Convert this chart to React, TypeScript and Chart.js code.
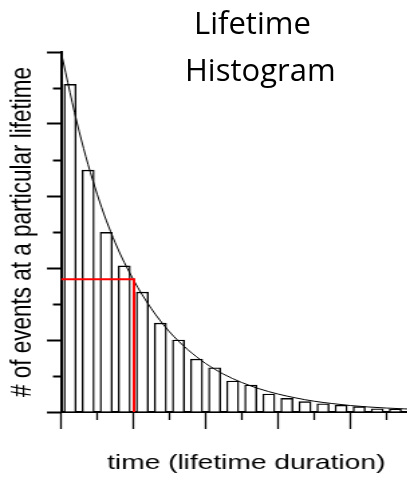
import React, { useEffect, useRef } from "react";
import { Chart, registerables } from "chart.js";

Chart.register(...registerables);

// Histogram bins (time in tick units) and event counts (in y tick units)
const binCenters = [0.25, 0.75, 1.25, 1.75, 2.25, 2.75, 3.25, 3.75, 4.25, 4.75, 5.25, 5.75, 6.25, 6.75, 7.25, 7.75, 8.25, 8.75, 9.25, 9.75];
const counts = [9.1, 6.72, 4.99, 4.06, 3.33, 2.47, 2.0, 1.47, 1.23, 0.86, 0.75, 0.5, 0.38, 0.29, 0.23, 0.19, 0.15, 0.09, 0.075, 0.02];

// Fitted decay curve
const fitT = [0, 0.5, 1, 1.5, 2, 2.5, 3, 3.5, 4, 4.5, 5, 5.5, 6, 6.5, 7, 7.5, 8, 8.5, 9, 9.5, 10, 10.25];
const fitV = [10, 7.8, 6.05, 4.7, 3.68, 2.87, 2.23, 1.74, 1.35, 1.05, 0.82, 0.64, 0.5, 0.39, 0.3, 0.235, 0.18, 0.14, 0.11, 0.087, 0.068, 0.06];

// Lifetime marker (1/e point)
const lifetimeT = 2.02;
const lifetimeV = 3.69;

const titleLines = ["Lifetime", "Histogram"];
const xTitle = "time (lifetime duration)";
const yTitle = "# of events at a particular lifetime";

const STRETCH = 1.34;

export default function App() {
  const ref = useRef<HTMLCanvasElement | null>(null);

  useEffect(() => {
    const canvas = ref.current;
    if (!canvas) return;
    const chart = new Chart(canvas, {
      type: "bar",
      data: {
        datasets: [
          {
            type: "line",
            data: [
              { x: 0, y: lifetimeV },
              { x: lifetimeT, y: lifetimeV },
              { x: lifetimeT, y: 0 },
            ],
            borderColor: "#ff0000",
            borderWidth: 2,
            pointRadius: 0,
            tension: 0,
            fill: false,
            order: 0,
          } as any,
          {
            type: "line",
            data: fitT.map((t, i) => ({ x: t, y: fitV[i] })),
            borderColor: "#000000",
            borderWidth: 1,
            pointRadius: 0,
            cubicInterpolationMode: "monotone",
            fill: false,
            order: 1,
          } as any,
          {
            type: "bar",
            data: binCenters.map((t, i) => ({ x: t, y: counts[i] })),
            backgroundColor: "#ffffff",
            borderColor: "#000000",
            borderWidth: 1.4,
            barThickness: 9,
            order: 2,
          } as any,
        ],
      },
      options: {
        animation: false,
        responsive: false,
        events: [],
        layout: { padding: { top: 44, left: 0, right: 0, bottom: 0 } },
        plugins: {
          legend: { display: false },
          tooltip: { enabled: false },
          title: { display: false },
        },
        scales: {
          x: {
            type: "linear",
            min: 0,
            max: 10.25,
            offset: false,
            ticks: { display: false, stepSize: 1, includeBounds: false },
            grid: {
              drawOnChartArea: false,
              offset: false,
              tickLength: 17,
              tickColor: "#000000",
              tickWidth: 1.3,
              tickBorderDash: (ctx: any) => (ctx.tick && ctx.tick.value % 2 !== 0 ? [7, 100] : []),
            } as any,
            border: { display: true, color: "#000000", width: 2 },
            title: {
              display: true,
              text: xTitle,
              color: "#000000",
              font: { family: "'Liberation Sans', Arial, sans-serif", size: 21, lineHeight: 1.2 },
              padding: { top: 22, bottom: 1.8 },
            },
          },
          y: {
            type: "linear",
            min: 0,
            max: 10,
            ticks: { display: false, stepSize: 1 },
            grid: {
              drawOnChartArea: false,
              tickLength: 10.5,
              tickColor: "#000000",
              tickWidth: 2,
              tickBorderDash: (ctx: any) => (ctx.tick && ctx.tick.value % 2 !== 0 ? [0, 4.5, 100, 0] : []),
            } as any,
            border: { display: true, color: "#000000", width: 2 },
            title: {
              display: true,
              text: yTitle,
              color: "#000000",
              font: { family: "'Liberation Sans', Arial, sans-serif", size: 22.5, lineHeight: 1 },
              padding: { top: 0, bottom: 6.55 },
            },
          },
        },
      } as any,
    });
    return () => chart.destroy();
  }, []);

  const titleStyle: React.CSSProperties = {
    position: "absolute",
    fontFamily: "'Open Sans', sans-serif",
    fontSize: "31px",
    lineHeight: "31px",
    whiteSpace: "nowrap",
    color: "#000000",
    zIndex: 2,
  };

  return (
    <div style={{ position: "relative", width: 407, height: 470, overflow: "hidden" }}>
      <div
        style={{
          position: "absolute",
          left: 0,
          top: 0,
          width: 316,
          height: 470,
          transform: `scaleX(${STRETCH})`,
          transformOrigin: "0 0",
        }}
      >
        <canvas ref={ref} width={316} height={470} style={{ display: "block" }} />
      </div>
      <div style={{ ...titleStyle, left: 186, top: -1 }}>{titleLines[0]}</div>
      <div style={{ ...titleStyle, left: 177, top: 46 }}>{titleLines[1]}</div>
    </div>
  );
}
